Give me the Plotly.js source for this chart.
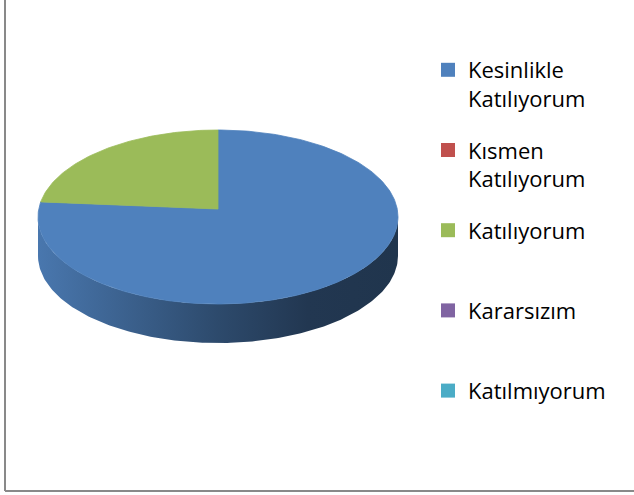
<!DOCTYPE html>
<html>
<head>
<meta charset="utf-8">
<script src="https://cdn.plot.ly/plotly-3.0.1.min.js"></script>
<style>
html,body{margin:0;padding:0;background:#fff;}
#chart{width:634px;height:495px;}
</style>
</head>
<body>
<div id="chart"></div>
<script>
// ---- data ----
const categories = ['Kesinlikle Katılıyorum', 'Kısmen Katılıyorum', 'Katılıyorum', 'Kararsızım', 'Katılmıyorum'];
const legendLabels = ['Kesinlikle<br>Katılıyorum', 'Kısmen<br>Katılıyorum', 'Katılıyorum<br>\u00a0', 'Kararsızım<br>\u00a0', 'Katılmıyorum<br>\u00a0'];
const values = [7, 0, 2, 0, 0];
const colors = ['#4f81bd', '#c0504d', '#9bbb59', '#8064a2', '#4bacc6'];

// ---- 3D pie geometry (style) ----
const W = 634, H = 495;
const CX = 218, CY = 217, RX = 180, RY = 87, DEPTH = 39, APEX_DY = -8, START = 90;

function pt(deg, dy) {
  const r = deg * Math.PI / 180;
  return [CX + RX * Math.cos(r), CY - RY * Math.sin(r) + (dy || 0)];
}
function arc(a0, a1, dy) {
  const pts = [];
  const n = Math.max(2, Math.ceil(Math.abs(a1 - a0)));
  for (let k = 0; k <= n; k++) pts.push(pt(a0 + (a1 - a0) * k / n, dy));
  return pts;
}
function shade(hex, f) {
  const c = [1, 3, 5].map(i => parseInt(hex.substr(i, 2), 16));
  return 'rgb(' + c.map(v => Math.round(v * f)).join(',') + ')';
}

const total = values.reduce((s, v) => s + v, 0);
const sideTraces = [], topTraces = [], legendTraces = [];
let a = START;
values.forEach((v, i) => {
  const sweep = 360 * v / total;
  const e = a - sweep;
  if (v > 0) {
    // top face
    const top = [[CX, CY + APEX_DY]].concat(arc(a, e, 0)).concat([[CX, CY + APEX_DY]]);
    topTraces.push({
      type: 'scatter', mode: 'lines', x: top.map(p => p[0]), y: top.map(p => p[1]),
      fill: 'toself', fillcolor: colors[i], line: {color: colors[i], width: 0.8},
      hoverinfo: 'skip', showlegend: false
    });
    // visible side (front half)
    for (let k = -2; k <= 1; k++) {
      const lo = Math.max(e, -180 + 360 * k), hi = Math.min(a, 360 * k);
      if (hi > lo) {
        const side = arc(lo, hi, 0).concat(arc(hi, lo, DEPTH));
        side.push(side[0]);
        sideTraces.push({
          type: 'scatter', mode: 'lines', x: side.map(p => p[0]), y: side.map(p => p[1]),
          fill: 'toself', fillcolor: shade(colors[i], 0.55),
          fillgradient: {type: 'horizontal', colorscale: [
            [0, shade(colors[i], 0.92)], [0.5, shade(colors[i], 0.57)],
            [0.75, shade(colors[i], 0.43)], [1, shade(colors[i], 0.41)]]},
          line: {width: 0}, hoverinfo: 'skip', showlegend: false
        });
      }
    }
  }
  legendTraces.push({
    type: 'scatter', mode: 'markers', x: [null], y: [null], name: legendLabels[i],
    legendgroup: 'g' + i, marker: {symbol: 'square', size: 14, color: colors[i]},
    hoverinfo: 'skip', showlegend: true
  });
  a = e;
});

const layout = {
  width: W, height: H,
  margin: {l: 0, r: 0, t: 0, b: 0},
  paper_bgcolor: '#ffffff', plot_bgcolor: 'rgba(0,0,0,0)',
  xaxis: {range: [0, W], visible: false, fixedrange: true},
  yaxis: {range: [H, 0], visible: false, fixedrange: true},
  showlegend: true,
  legend: {
    x: 428 / W, xanchor: 'left', y: 1 - 49 / H, yanchor: 'top',
    font: {family: 'Open Sans, sans-serif', size: 22, color: '#000'},
    bgcolor: 'rgba(0,0,0,0)', valign: 'top', tracegroupgap: 20,
    traceorder: 'grouped', itemclick: false, itemdoubleclick: false
  },
  shapes: [
    {type: 'line', xref: 'paper', yref: 'paper', x0: 5 / W, x1: 5 / W, y0: 1 - 491 / H, y1: 1, line: {color: '#898989', width: 2}},
    {type: 'line', xref: 'paper', yref: 'paper', x0: 5 / W, x1: 1, y0: 1 - 491 / H, y1: 1 - 491 / H, line: {color: '#898989', width: 2}}
  ]
};

Plotly.newPlot('chart', sideTraces.concat(topTraces).concat(legendTraces), layout, {displayModeBar: false, staticPlot: true});
</script>
</body>
</html>
